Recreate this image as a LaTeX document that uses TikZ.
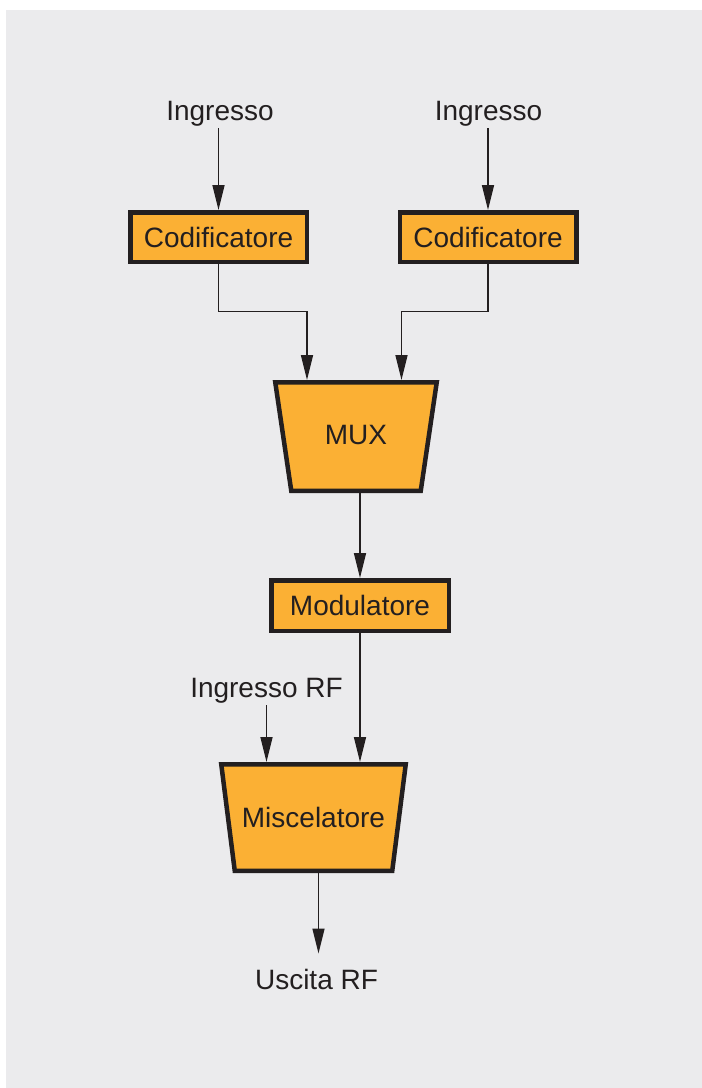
\documentclass[tikz,border=0pt]{standalone}
\usepackage{fontspec}
\setmainfont{Liberation Sans}
\usetikzlibrary{arrows.meta,calc}
\pgfdeclarelayer{background}
\pgfsetlayers{background,main}
\definecolor{bgc}{RGB}{235,235,237}
\definecolor{orng}{RGB}{251,176,52}
\definecolor{ink}{RGB}{35,31,32}
\tikzset{
  txt/.style={font=\fontsize{28}{32}\selectfont, text=ink, inner sep=0pt},
  lbl/.style={txt, anchor=base},
  block/.style={txt, draw=ink, fill=orng, line width=4.5pt},
  trapbox/.style={txt, outer sep=2.25pt},
  trapline/.style={draw=ink, fill=orng, line width=4.5pt, line join=miter},
  arr/.style={draw=ink, line width=1.5pt, -{Triangle[length=25pt,width=12pt]}}
}
\begin{document}
\begin{tikzpicture}[x=1pt,y=-1pt]
\useasboundingbox (0,0) rectangle (702,1088);

% labels
\node[lbl] (in1) at (220,120) {Ingresso};
\node[lbl] (in2) at (488.5,120) {Ingresso};
\node[lbl] (rfin) at (266.5,697) {Ingresso RF};
\node[lbl] (out) at (316.5,989) {Uscita RF};

% rectangular blocks
\node[block, minimum width=176.5pt, minimum height=49.5pt] (cod1) at (218.5,237) {Codificatore};
\node[block, minimum width=176.5pt, minimum height=49.5pt] (cod2) at (488,237) {Codificatore};
\node[block, minimum width=177.5pt, minimum height=50.5pt] (mod) at (360,605.5) {Modulatore};

% trapezoid blocks
\node[trapbox, minimum width=161.5pt, minimum height=108.5pt] (mux) at (356,436.5) {\raisebox{3.5pt}{MUX}};
\node[trapbox, minimum width=184.5pt, minimum height=106.5pt] (mix) at (313.5,817.5) {Miscelatore};
\begin{pgfonlayer}{background}
  \fill[bgc] (6,10) rectangle (702,1088);
  \draw[trapline] ([shift={(-80.75,-54.25)}]mux.center) -- ([shift={(80.75,-54.25)}]mux.center)
     -- ([shift={(64.75,54.25)}]mux.center) -- ([shift={(-64.75,54.25)}]mux.center) -- cycle;
  \draw[trapline] ([shift={(-92.25,-53.25)}]mix.center) -- ([shift={(92.25,-53.25)}]mix.center)
     -- ([shift={(78.75,53.25)}]mix.center) -- ([shift={(-78.75,53.25)}]mix.center) -- cycle;
\end{pgfonlayer}

% connectors
\draw[arr] ($(in1.south -| cod1.north)+(0,2)$) -- (cod1.north);
\draw[arr] ($(in2.south -| cod2.north)+(0,2)$) -- (cod2.north);
\draw[arr] (cod1.south) -- ++(0,47.5) -| ([xshift=-49pt]mux.north);
\draw[arr] (cod2.south) -- ++(0,47.5) -| ([xshift=45.5pt]mux.north);
\draw[arr] (mux.south -| mod.north) -- (mod.north);
\draw[arr] (mod.south) -- (mod.south |- mix.north);
\draw[arr] ($(rfin.south)+(0,2)$) -- (rfin.south |- mix.north);
\draw[arr] ([xshift=5pt]mix.south) -- ([xshift=5pt,yshift=15pt]mix.south |- out.north);
\end{tikzpicture}
\end{document}
